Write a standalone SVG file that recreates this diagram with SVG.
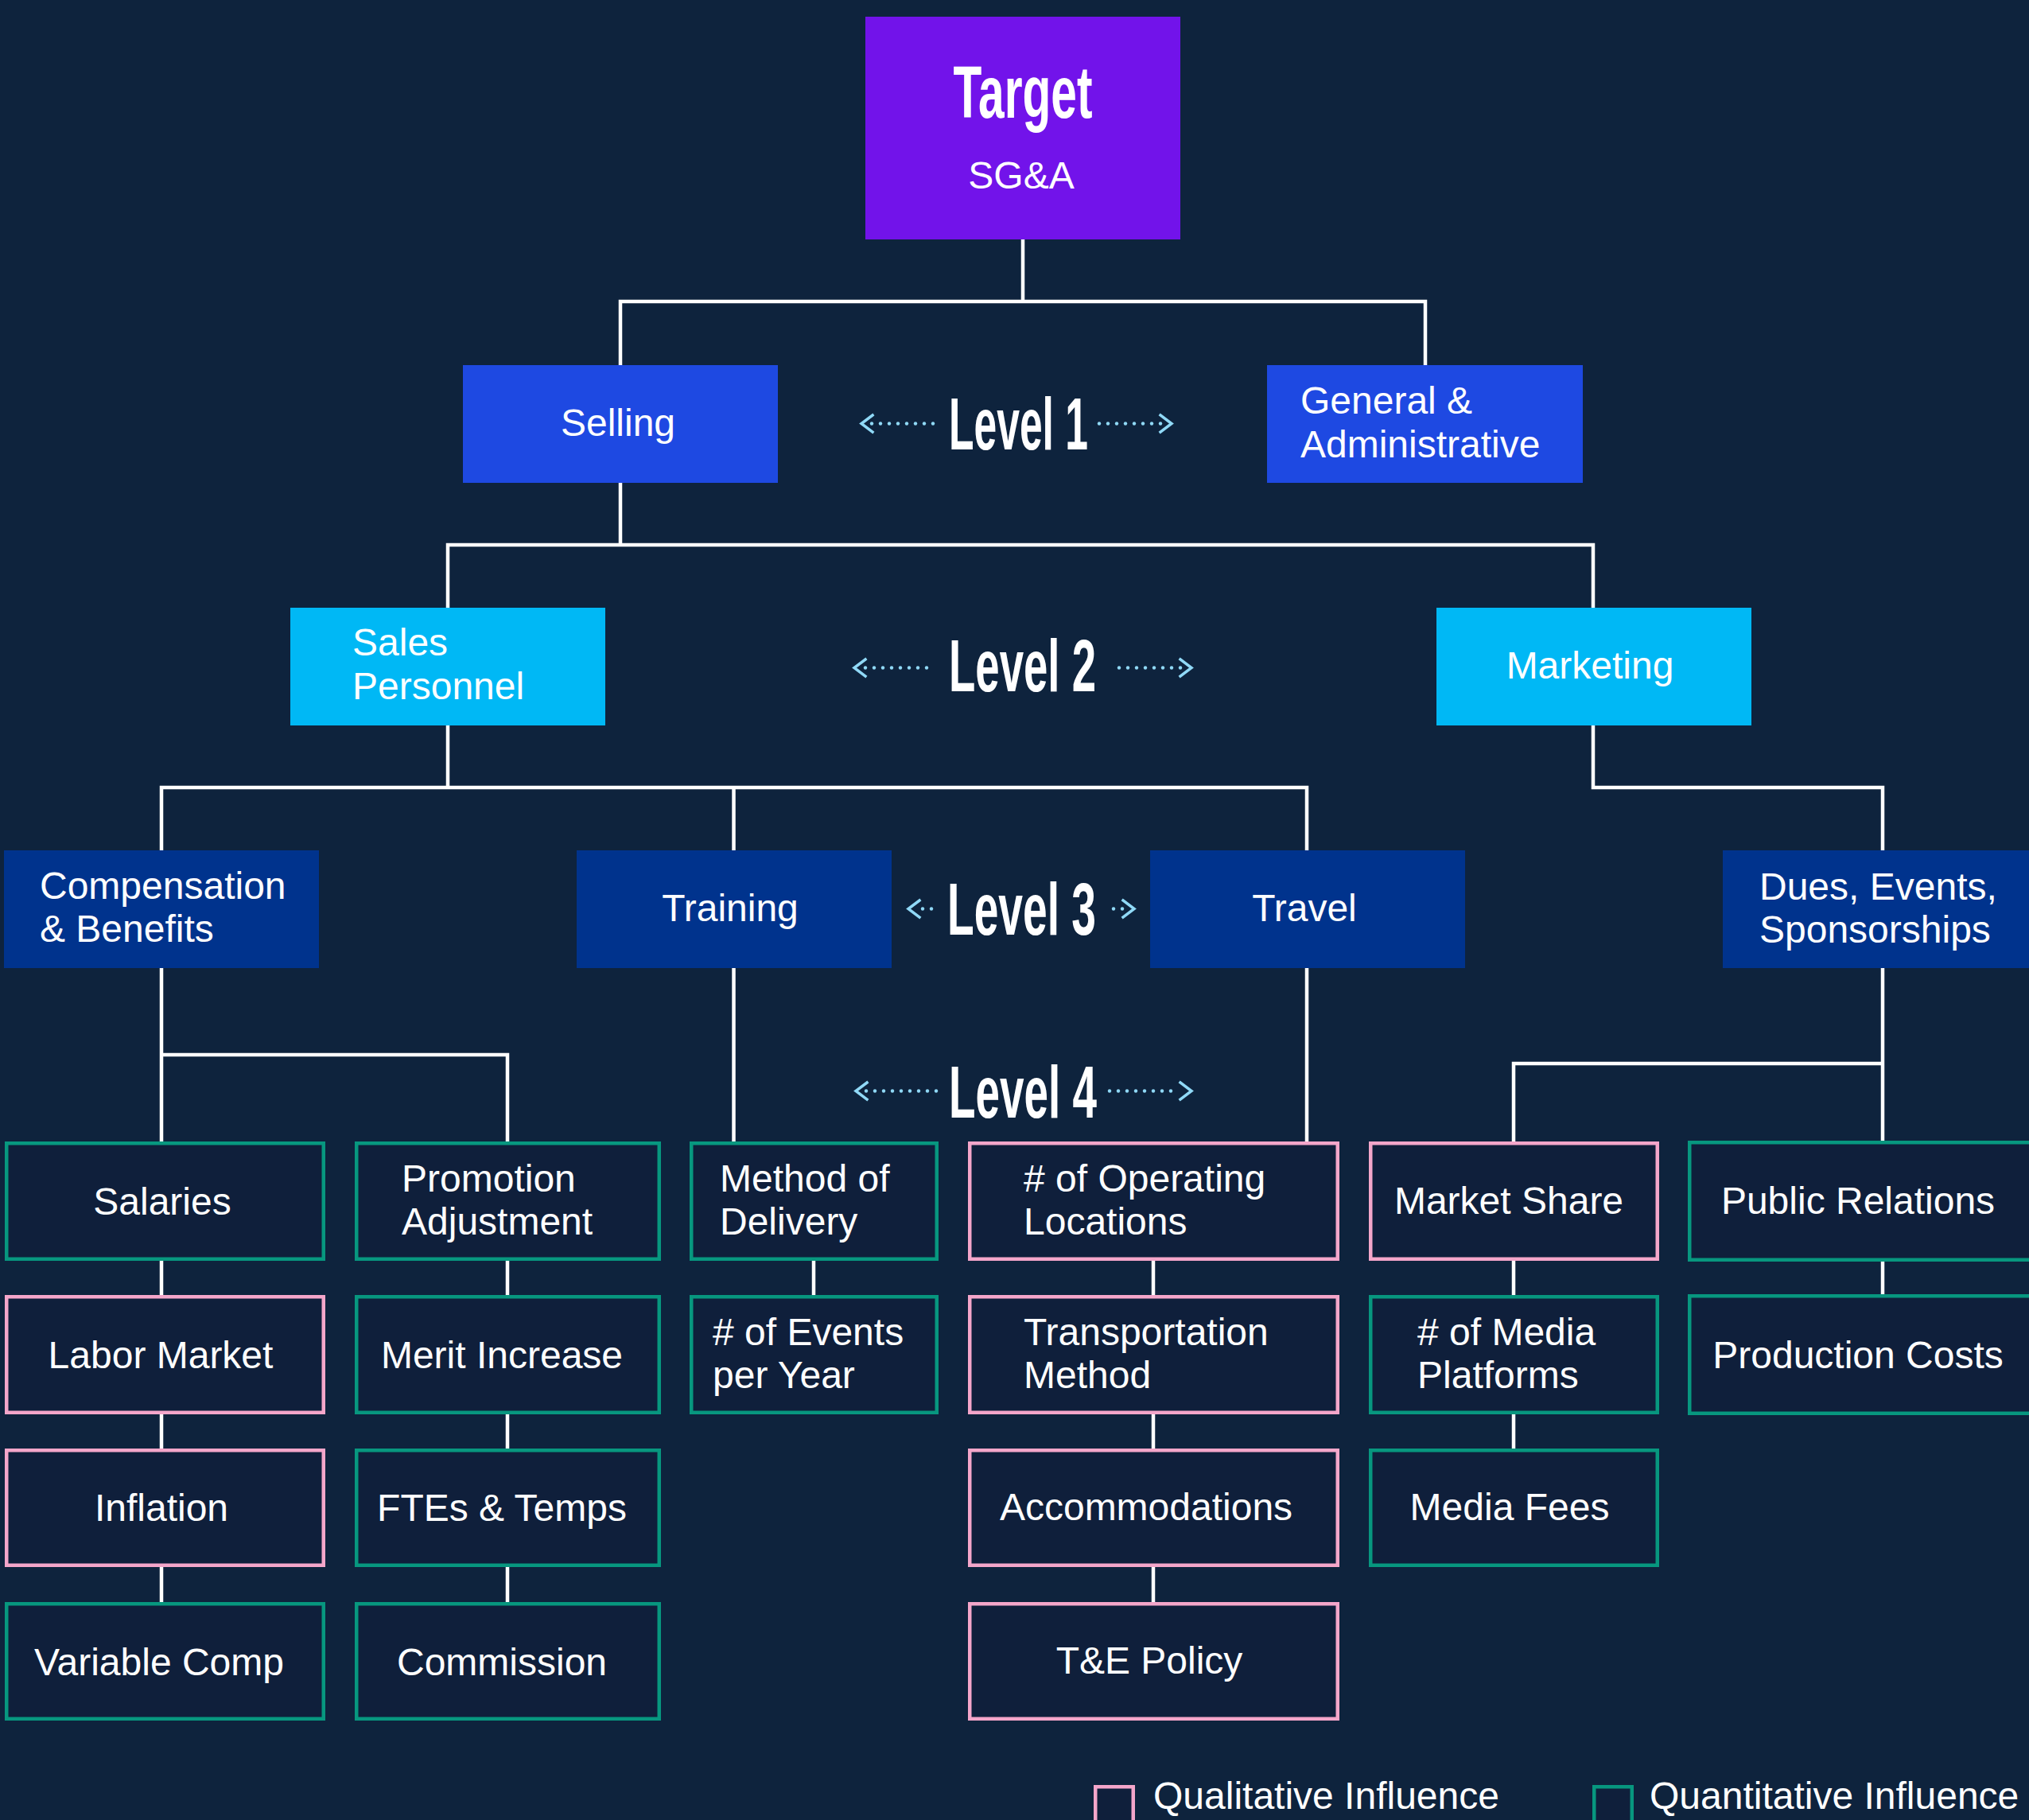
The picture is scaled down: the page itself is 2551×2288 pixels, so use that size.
<svg xmlns="http://www.w3.org/2000/svg" width="2551" height="2288" viewBox="0 0 2551 2288">
<defs>
<style>
.bg{fill:#0E233D}
.t{font-family:"Liberation Sans",Arial,sans-serif;font-size:48px;fill:#FFFFFF}
.c{text-anchor:middle}
.lvl{font-family:"Liberation Sans",Arial,sans-serif;font-weight:bold;font-size:92px;fill:#FFFFFF}
.con{fill:none;stroke:#FFFFFF;stroke-width:4.5;stroke-linejoin:miter;stroke-linecap:butt}
.q{fill:#0F1F3B;stroke:#07977F;stroke-width:4.5}
.p{fill:#0F1F3B;stroke:#F4A6CA;stroke-width:4.5}
.chev{fill:none;stroke:#90D9F7;stroke-width:3.5;stroke-linecap:square}
.dot{fill:#90D9F7}
</style>
</defs>
<rect class="bg" x="0" y="0" width="2551" height="2288"/>

<g id="connectors">
<path class="con" d="M1286,301 V379 M780,459 V379 H1792 V459"/>
<path class="con" d="M780,607 V685 M563,764 V685 H2003 V764"/>
<path class="con" d="M563,912 V990 M203,1069 V990 H1643 V1069 M922.5,990 V1069"/>
<path class="con" d="M2003,912 V990 H2367 V1069"/>
<path class="con" d="M203,1217 V1435 M203,1326 H638 V1435"/>
<path class="con" d="M922.5,1217 V1435"/>
<path class="con" d="M1643,1217 V1435"/>
<path class="con" d="M2367,1217 V1435 M2367,1337 H1903 V1435"/>
<path class="con" d="M203,1585 V1628 M203,1778 V1821 M203,1970 V2014"/>
<path class="con" d="M638,1585 V1628 M638,1778 V1821 M638,1970 V2014"/>
<path class="con" d="M1023,1585 V1628"/>
<path class="con" d="M1450,1585 V1628 M1450,1778 V1821 M1450,1970 V2014"/>
<path class="con" d="M1903,1585 V1628 M1903,1778 V1821"/>
<path class="con" d="M2367,1585 V1628"/>
</g>

<g id="target">
<rect x="1088" y="21" width="396" height="280" fill="#7213EA"/>
<text class="lvl c" x="1286" y="148" textLength="175" lengthAdjust="spacingAndGlyphs">Target</text>
<text class="t c" x="1284" y="237" font-size="46">SG&amp;A</text>
</g>

<g id="selling">
<rect x="582" y="459" width="396" height="148" fill="#1E49E2"/>
<text class="t c" x="777" y="548">Selling</text>
</g>
<g id="ga">
<rect x="1593" y="459" width="397" height="148" fill="#1E49E2"/>
<text class="t" x="1635" y="520">General &amp;</text>
<text class="t" x="1635" y="575">Administrative</text>
</g>

<g id="sales-personnel">
<rect x="365" y="764" width="396" height="148" fill="#00B8F5"/>
<text class="t" x="443" y="824">Sales</text>
<text class="t" x="443" y="879">Personnel</text>
</g>
<g id="marketing">
<rect x="1806" y="764" width="396" height="148" fill="#00B8F5"/>
<text class="t c" x="1999" y="853">Marketing</text>
</g>

<g id="comp-benefits">
<rect x="5" y="1069" width="396" height="148" fill="#00338D"/>
<text class="t" x="50" y="1130">Compensation</text>
<text class="t" x="50" y="1184">&amp; Benefits</text>
</g>
<g id="training">
<rect x="725" y="1069" width="396" height="148" fill="#00338D"/>
<text class="t c" x="918" y="1158">Training</text>
</g>
<g id="travel">
<rect x="1446" y="1069" width="396" height="148" fill="#00338D"/>
<text class="t c" x="1640" y="1158">Travel</text>
</g>
<g id="dues">
<rect x="2166" y="1069" width="400" height="148" fill="#00338D"/>
<text class="t" x="2212" y="1131">Dues, Events,</text>
<text class="t" x="2212" y="1185">Sponsorships</text>
</g>

<g id="level1">
<text class="lvl" x="1193" y="565" textLength="175" lengthAdjust="spacingAndGlyphs">Level 1</text>
<path class="chev" d="M1097,522 L1083,532.5 L1097,543"/>
<g class="dot"><circle cx="1096" cy="532.5" r="2.2"/><circle cx="1107" cy="532.5" r="2.2"/><circle cx="1118" cy="532.5" r="2.2"/><circle cx="1129" cy="532.5" r="2.2"/><circle cx="1140" cy="532.5" r="2.2"/><circle cx="1151" cy="532.5" r="2.2"/><circle cx="1162" cy="532.5" r="2.2"/><circle cx="1173" cy="532.5" r="2.2"/></g>
<g class="dot"><circle cx="1382" cy="532.5" r="2.2"/><circle cx="1393" cy="532.5" r="2.2"/><circle cx="1404" cy="532.5" r="2.2"/><circle cx="1415" cy="532.5" r="2.2"/><circle cx="1426" cy="532.5" r="2.2"/><circle cx="1437" cy="532.5" r="2.2"/><circle cx="1448" cy="532.5" r="2.2"/><circle cx="1459" cy="532.5" r="2.2"/></g>
<path class="chev" d="M1459,522 L1473,532.5 L1459,543"/>
</g>

<g id="level2">
<text class="lvl" x="1193" y="869" textLength="185" lengthAdjust="spacingAndGlyphs">Level 2</text>
<path class="chev" d="M1088,829 L1074,839.5 L1088,850"/>
<g class="dot"><circle cx="1088" cy="839.5" r="2.2"/><circle cx="1099" cy="839.5" r="2.2"/><circle cx="1110" cy="839.5" r="2.2"/><circle cx="1121" cy="839.5" r="2.2"/><circle cx="1132" cy="839.5" r="2.2"/><circle cx="1143" cy="839.5" r="2.2"/><circle cx="1154" cy="839.5" r="2.2"/><circle cx="1165" cy="839.5" r="2.2"/></g>
<g class="dot"><circle cx="1407" cy="839.5" r="2.2"/><circle cx="1418" cy="839.5" r="2.2"/><circle cx="1429" cy="839.5" r="2.2"/><circle cx="1440" cy="839.5" r="2.2"/><circle cx="1451" cy="839.5" r="2.2"/><circle cx="1462" cy="839.5" r="2.2"/><circle cx="1473" cy="839.5" r="2.2"/><circle cx="1484" cy="839.5" r="2.2"/></g>
<path class="chev" d="M1484,829 L1498,839.5 L1484,850"/>
</g>

<g id="level3">
<text class="lvl" x="1191" y="1175" textLength="187" lengthAdjust="spacingAndGlyphs">Level 3</text>
<path class="chev" d="M1156,1132 L1142,1142.5 L1156,1153"/>
<g class="dot"><circle cx="1160" cy="1142.5" r="2.2"/><circle cx="1171" cy="1142.5" r="2.2"/></g>
<g class="dot"><circle cx="1400" cy="1142.5" r="2.2"/><circle cx="1411" cy="1142.5" r="2.2"/></g>
<path class="chev" d="M1412,1132 L1426,1142.5 L1412,1153"/>
</g>

<g id="level4">
<text class="lvl" x="1193" y="1405" textLength="186" lengthAdjust="spacingAndGlyphs">Level 4</text>
<path class="chev" d="M1090,1361 L1076,1371.5 L1090,1382"/>
<g class="dot"><circle cx="1089" cy="1371.5" r="2.2"/><circle cx="1100" cy="1371.5" r="2.2"/><circle cx="1111" cy="1371.5" r="2.2"/><circle cx="1122" cy="1371.5" r="2.2"/><circle cx="1133" cy="1371.5" r="2.2"/><circle cx="1144" cy="1371.5" r="2.2"/><circle cx="1155" cy="1371.5" r="2.2"/><circle cx="1166" cy="1371.5" r="2.2"/><circle cx="1177" cy="1371.5" r="2.2"/></g>
<g class="dot"><circle cx="1395" cy="1371.5" r="2.2"/><circle cx="1406" cy="1371.5" r="2.2"/><circle cx="1417" cy="1371.5" r="2.2"/><circle cx="1428" cy="1371.5" r="2.2"/><circle cx="1439" cy="1371.5" r="2.2"/><circle cx="1450" cy="1371.5" r="2.2"/><circle cx="1461" cy="1371.5" r="2.2"/><circle cx="1472" cy="1371.5" r="2.2"/></g>
<path class="chev" d="M1484,1361 L1498,1371.5 L1484,1382"/>
</g>

<g id="salaries"><rect class="q" x="8.25" y="1437.25" width="398.5" height="145.5"/><text class="t c" x="204" y="1527">Salaries</text></g>
<g id="labor-market"><rect class="p" x="8.25" y="1630.25" width="398.5" height="145.5"/><text class="t c" x="202" y="1720">Labor Market</text></g>
<g id="inflation"><rect class="p" x="8.25" y="1823.25" width="398.5" height="144.5"/><text class="t c" x="203" y="1912">Inflation</text></g>
<g id="variable-comp"><rect class="q" x="8.25" y="2016.25" width="398.5" height="144.5"/><text class="t c" x="200" y="2106">Variable Comp</text></g>

<g id="promotion-adjustment"><rect class="q" x="448.25" y="1437.25" width="380.5" height="145.5"/><text class="t" x="505" y="1498">Promotion</text><text class="t" x="505" y="1552">Adjustment</text></g>
<g id="merit-increase"><rect class="q" x="448.25" y="1630.25" width="380.5" height="145.5"/><text class="t c" x="631" y="1720">Merit Increase</text></g>
<g id="ftes-temps"><rect class="q" x="448.25" y="1823.25" width="380.5" height="144.5"/><text class="t c" x="631" y="1912">FTEs &amp; Temps</text></g>
<g id="commission"><rect class="q" x="448.25" y="2016.25" width="380.5" height="144.5"/><text class="t c" x="631" y="2106">Commission</text></g>

<g id="method-of-delivery"><rect class="q" x="869.25" y="1437.25" width="308.5" height="145.5"/><text class="t" x="905" y="1498">Method of</text><text class="t" x="905" y="1552">Delivery</text></g>
<g id="events-per-year"><rect class="q" x="869.25" y="1630.25" width="308.5" height="145.5"/><text class="t" x="896" y="1691"># of Events</text><text class="t" x="896" y="1745">per Year</text></g>

<g id="operating-locations"><rect class="p" x="1219.25" y="1437.25" width="462.5" height="145.5"/><text class="t" x="1287" y="1498"># of Operating</text><text class="t" x="1287" y="1552">Locations</text></g>
<g id="transportation-method"><rect class="p" x="1219.25" y="1630.25" width="462.5" height="145.5"/><text class="t" x="1287" y="1691">Transportation</text><text class="t" x="1287" y="1745">Method</text></g>
<g id="accommodations"><rect class="p" x="1219.25" y="1823.25" width="462.5" height="144.5"/><text class="t c" x="1441" y="1911">Accommodations</text></g>
<g id="te-policy"><rect class="p" x="1219.25" y="2016.25" width="462.5" height="144.5"/><text class="t c" x="1445" y="2104">T&amp;E Policy</text></g>

<g id="market-share"><rect class="p" x="1723.25" y="1437.25" width="360.5" height="145.5"/><text class="t c" x="1897" y="1526">Market Share</text></g>
<g id="media-platforms"><rect class="q" x="1723.25" y="1630.25" width="360.5" height="145.5"/><text class="t" x="1782" y="1691"># of Media</text><text class="t" x="1782" y="1745">Platforms</text></g>
<g id="media-fees"><rect class="q" x="1723.25" y="1823.25" width="360.5" height="144.5"/><text class="t c" x="1898" y="1911">Media Fees</text></g>

<g id="public-relations"><rect class="q" x="2124.25" y="1436.25" width="440" height="147.5"/><text class="t c" x="2336" y="1526">Public Relations</text></g>
<g id="production-costs"><rect class="q" x="2124.25" y="1629.25" width="440" height="147.5"/><text class="t c" x="2336" y="1720">Production Costs</text></g>

<g id="legend">
<rect class="p" x="1377.25" y="2246.25" width="47.5" height="60"/>
<text class="t" x="1450" y="2274">Qualitative Influence</text>
<rect class="q" x="2004.25" y="2246.25" width="47.5" height="60"/>
<text class="t" x="2074" y="2274">Quantitative Influence</text>
</g>
</svg>
